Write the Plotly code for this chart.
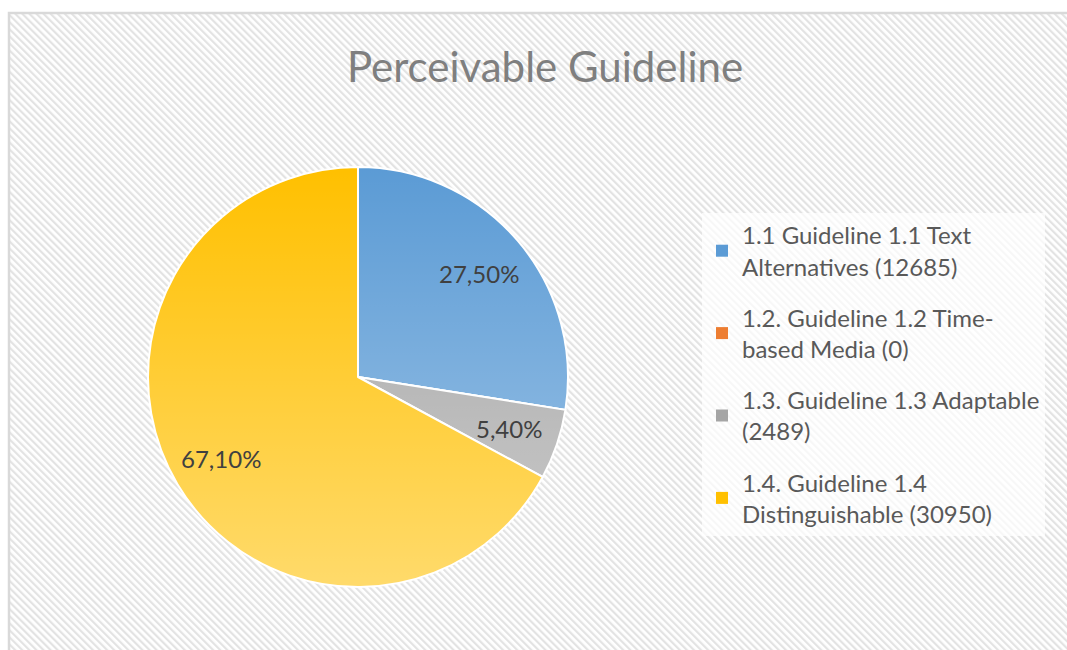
import base64
import math
import plotly.graph_objects as go

# ---- data ----
labels = [
    "1.1 Guideline 1.1 Text<br>Alternatives (12685)",
    "1.2. Guideline 1.2 Time-<br>based Media (0)",
    "1.3. Guideline 1.3 Adaptable<br>(2489)",
    "1.4. Guideline 1.4<br>Distinguishable (30950)",
]
values = [12685, 0, 2489, 30950]
colors = ["#5B9BD5", "#ED7D31", "#A5A5A5", "#FFC000"]
title_text = "Perceivable Guideline"

W, H = 1067, 650
FONT = "Lato, Open Sans, sans-serif"


def svg_uri(s):
    return "data:image/svg+xml;base64," + base64.b64encode(s.encode()).decode()


# hatched background (Excel-like) as an SVG layout image
bg_svg = f'''<svg xmlns="http://www.w3.org/2000/svg" width="{W}" height="{H}">
<defs><pattern id="p" width="5" height="5" patternUnits="userSpaceOnUse" patternTransform="rotate(-45)">
<rect width="5" height="5" fill="#ffffff"/><rect width="2.2" height="5" fill="#e3e3e3"/></pattern></defs>
<rect width="{W}" height="{H}" fill="#ffffff"/>
<rect x="9" y="13" width="{W+10}" height="{H+10}" fill="url(#p)" stroke="#d9d9d9" stroke-width="2.5"/>
</svg>'''

cx, cy, r = 358, 377, 210

# light vertical gradient sheen over the pie (Excel gradient fill look)
sheen_svg = f'''<svg xmlns="http://www.w3.org/2000/svg" width="{2*r}" height="{2*r}" viewBox="0 0 {2*r} {2*r}">
<defs><linearGradient id="g" x1="0" y1="0" x2="0" y2="1">
<stop offset="0" stop-color="#ffffff" stop-opacity="0"/>
<stop offset="1" stop-color="#ffffff" stop-opacity="0.42"/></linearGradient></defs>
<circle cx="{r}" cy="{r}" r="{r}" fill="url(#g)"/>
</svg>'''

fig = go.Figure()
fig.add_trace(
    go.Pie(
        labels=labels,
        values=values,
        sort=False,
        direction="clockwise",
        rotation=0,
        marker=dict(colors=colors, line=dict(color="#ffffff", width=2)),
        textinfo="none",
        domain=dict(x=[(cx - r) / W, (cx + r) / W], y=[(H - cy - r) / H, (H - cy + r) / H]),
        hoverinfo="label+value+percent",
        showlegend=False,
    )
)

# legend entries (one per category, so the gap between entries can be set)
for i, (lab, col) in enumerate(zip(labels, colors)):
    fig.add_trace(
        go.Scatter(
            x=[None], y=[None], mode="markers", name=lab, legendgroup=str(i),
            marker=dict(symbol="square", size=9, color=col), hoverinfo="skip",
        )
    )

# data labels placed at each slice's mid-angle (computed from the values)
total = sum(values)
annotations = []
cum = 0.0
for v in values:
    frac = v / total
    if v > 0:
        ang = 2 * math.pi * (cum + frac / 2)
        k = 0.76 * r
        px = cx + k * math.sin(ang)
        py = cy - k * math.cos(ang)
        txt = f"{frac * 100:.2f}".replace(".", ",") + "%"
        annotations.append(
            dict(x=px / W, y=1 - py / H, xref="paper", yref="paper", text=txt,
                 xanchor="center", yanchor="middle",
                 showarrow=False, font=dict(family=FONT, size=24, color="#404040"))
        )
    cum += frac

fig.update_layout(
    width=W,
    height=H,
    margin=dict(l=0, r=0, t=0, b=0),
    paper_bgcolor="rgba(0,0,0,0)",
    plot_bgcolor="rgba(0,0,0,0)",
    xaxis=dict(visible=False),
    yaxis=dict(visible=False),
    separators=",.",
    title=dict(
        text=title_text,
        x=545 / W,
        xanchor="center",
        y=1 - 67 / H,
        yanchor="middle",
        font=dict(family=FONT, size=42, color="#7f7f7f"),
    ),
    legend=dict(
        x=702 / W,
        xanchor="left",
        y=1 - 213 / H,
        yanchor="top",
        bgcolor="rgba(255,255,255,0.72)",
        font=dict(family=FONT, size=24, color="#595959"),
        itemsizing="constant",
        traceorder="grouped",
        tracegroupgap=17,
    ),
    annotations=annotations,
    images=[
        dict(source=svg_uri(bg_svg), xref="paper", yref="paper", x=0, y=1, sizex=1, sizey=1,
             sizing="stretch", xanchor="left", yanchor="top", layer="below"),
        dict(source=svg_uri(sheen_svg), xref="paper", yref="paper",
             x=(cx - r) / W, y=1 - (cy - r) / H, sizex=2 * r / W, sizey=2 * r / H,
             sizing="stretch", xanchor="left", yanchor="top", layer="above"),
    ],
)

fig.write_html("out.html", config={"displayModeBar": False},
               post_script="document.body.style.margin='0';")
